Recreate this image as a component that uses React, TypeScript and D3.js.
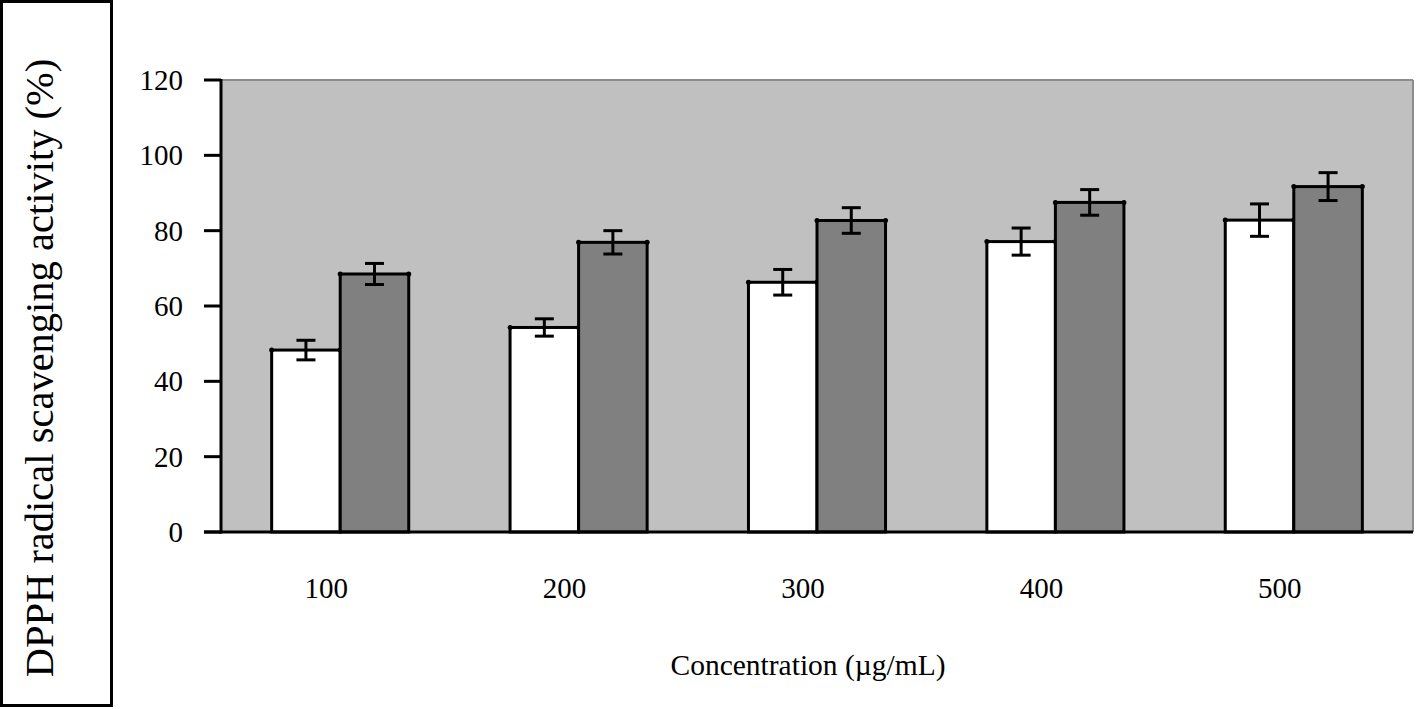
import * as d3 from "d3";

// Concentrations on the x axis
const concentrations = ["100", "200", "300", "400", "500"];

// White bars (sample) and dark bars (reference), with their error bars
const sampleValues = [48.3, 54.3, 66.3, 77.1, 82.8];
const sampleErrors = [2.6, 2.3, 3.4, 3.6, 4.3];
const referenceValues = [68.5, 76.9, 82.7, 87.5, 91.7];
const referenceErrors = [2.8, 3.1, 3.4, 3.4, 3.7];

const yTicks = [0, 20, 40, 60, 80, 100, 120];

const seriesKeys = ["sample", "reference"];
const seriesFill: Record<string, string> = { sample: "#ffffff", reference: "#808080" };

export default function App() {
  const width = 1418;
  const height = 709;
  const plot = { left: 221, right: 1413, top: 80, bottom: 532 };
  const font = "'Liberation Serif', 'Times New Roman', serif";

  const rows = concentrations.map((c, i) => ({
    c,
    bars: [
      { key: "sample", value: sampleValues[i], err: sampleErrors[i] },
      { key: "reference", value: referenceValues[i], err: referenceErrors[i] },
    ],
  }));

  const x = d3.scaleBand<string>()
    .domain(concentrations)
    .range([plot.left, plot.right])
    .paddingInner(0.425)
    .paddingOuter(0.2125);

  const xInner = d3.scaleBand<string>()
    .domain(seriesKeys)
    .range([0, x.bandwidth()]);

  const y = d3.scaleLinear().domain([0, 120]).range([plot.bottom, plot.top]);

  const capHalf = 9.5;
  const labelShift = -14;

  return (
    <svg width={width} height={height} style={{ position: "absolute", left: 0, top: 0, background: "#fff" }}>
      {/* y-axis title box */}
      <rect x={1.5} y={1.5} width={110} height={704} fill="#fff" stroke="#000" strokeWidth={3} />
      <text
        transform={`translate(53, 368) rotate(-90)`}
        textAnchor="middle"
        fontFamily={font}
        fontSize={40.5}
        fill="#000"
      >
        DPPH radical scavenging activity (%)
      </text>

      {/* plot background */}
      <rect x={plot.left} y={plot.top} width={plot.right - plot.left} height={plot.bottom - plot.top} fill="#c0c0c0" />
      <line x1={plot.left} x2={plot.right} y1={plot.top} y2={plot.top} stroke="#8c8c8c" strokeWidth={2} />
      <line x1={plot.right} x2={plot.right} y1={plot.top} y2={plot.bottom} stroke="#8c8c8c" strokeWidth={2} />

      {/* bars */}
      {rows.map((row) => (
        <g key={row.c} transform={`translate(${x(row.c)},0)`}>
          {row.bars.map((b) => {
            const bx = xInner(b.key) as number;
            const bw = xInner.bandwidth();
            const cx = bx + bw / 2;
            return (
              <g key={b.key}>
                <rect
                  x={bx}
                  y={y(b.value)}
                  width={bw}
                  height={y(0) - y(b.value)}
                  fill={seriesFill[b.key]}
                  stroke="#000"
                  strokeWidth={3}
                />
                <circle cx={bx} cy={y(b.value)} r={2.5} fill="#000" />
                <circle cx={bx + bw} cy={y(b.value)} r={2.5} fill="#000" />
                <g stroke="#000" strokeWidth={3}>
                  <line x1={cx} x2={cx} y1={y(b.value + b.err)} y2={y(b.value - b.err)} />
                  <line x1={cx - capHalf} x2={cx + capHalf} y1={y(b.value + b.err)} y2={y(b.value + b.err)} />
                  <line x1={cx - capHalf} x2={cx + capHalf} y1={y(b.value - b.err)} y2={y(b.value - b.err)} />
                </g>
              </g>
            );
          })}
        </g>
      ))}

      {/* y axis */}
      <line x1={plot.left} x2={plot.left} y1={plot.top - 1} y2={plot.bottom + 1.5} stroke="#000" strokeWidth={3} />
      {yTicks.map((t) => (
        <g key={t}>
          <line x1={204} x2={plot.left} y1={y(t)} y2={y(t)} stroke="#000" strokeWidth={3} />
          <text x={183} y={y(t)} dy="0.35em" textAnchor="end" fontFamily={font} fontSize={29} fill="#000">
            {t}
          </text>
        </g>
      ))}

      {/* x axis */}
      <line x1={204} x2={plot.right} y1={plot.bottom} y2={plot.bottom} stroke="#000" strokeWidth={3} />
      {concentrations.map((c) => (
        <text
          key={c}
          x={(x(c) as number) + x.bandwidth() / 2 + labelShift}
          y={598}
          textAnchor="middle"
          fontFamily={font}
          fontSize={29}
          fill="#000"
        >
          {c}
        </text>
      ))}
      <text x={808} y={675} textAnchor="middle" fontFamily={font} fontSize={29.5} fill="#000">
        Concentration (µg/mL)
      </text>
    </svg>
  );
}
